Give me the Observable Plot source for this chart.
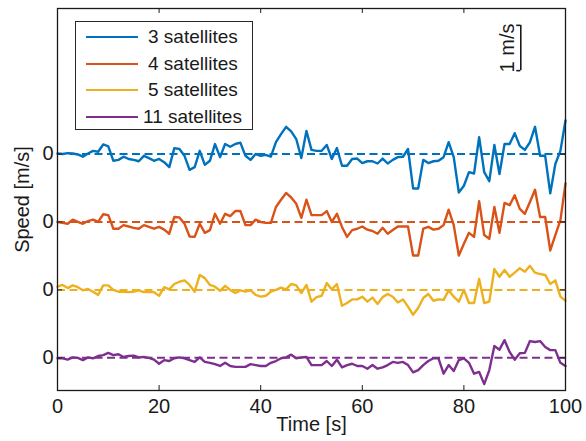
<!DOCTYPE html>
<html>
<head>
<meta charset="utf-8">
<script src="https://cdn.jsdelivr.net/npm/d3@7"></script>
<script src="https://cdn.jsdelivr.net/npm/@observablehq/plot@0.6"></script>
<style>
  html, body { margin: 0; padding: 0; background: #fff; }
  #wrap { position: relative; width: 586px; height: 441px; font-family: "Liberation Sans", Arial, sans-serif; }
  #legend { position: absolute; left: 75px; top: 21px; width: 178px; height: 109px; border: 1px solid #262626; background: #fff; box-sizing: border-box; }
  .sw { position: absolute; left: 10px; width: 52px; height: 0; border-top: 2.4px solid; }
  .lab { position: absolute; font-family: "Liberation Sans", Arial, sans-serif; font-size: 19px; color: #1a1a1a; white-space: nowrap; line-height: 20px; }
</style>
</head>
<body>
<div id="wrap"><div id="legend"></div></div>
<script>
const seriesNames = ["3 satellites", "4 satellites", "5 satellites", "11 satellites"];
const colors = ["#0072BD", "#D95319", "#EDB120", "#7E2F8E"];
const offsets = [0, -1.5, -3, -4.5];
const xTicks = [0, 20, 40, 60, 80, 100];

const sat3 = [0.01,0,0.02,0.01,-0.01,-0.06,0.01,0.07,0.05,0.21,0.17,-0.15,-0.13,-0.06,-0.11,-0.13,-0.16,-0.04,-0.09,-0.15,
  -0.11,-0.18,-0.29,0.13,0.11,-0.04,-0.35,-0.29,0.07,-0.24,-0.15,0.22,-0.07,0.22,0.16,0.22,0.25,-0.04,-0.13,0,
  -0.04,-0.02,-0.06,0.26,0.44,0.6,0.5,0.33,-0.09,0.51,0.09,0.07,0.07,0.2,-0.11,0.13,-0.26,-0.26,-0.11,-0.1,
  -0.2,-0.16,-0.16,-0.21,-0.1,-0.21,-0.13,-0.07,-0.06,0.11,-0.76,-0.76,-0.13,-0.2,-0.16,-0.15,-0.07,0.26,-0.07,-0.85,
  -0.7,-0.4,-0.43,0.37,-0.4,-0.6,0.2,-0.44,0.22,0.22,0.46,0.18,0.09,0.26,0.6,-0.04,-0.04,-0.87,-0.22,0.07,0.74];
const sat4 = [0,-0.02,-0.04,0.05,0,-0.04,0.02,0.05,0,0.17,0.15,-0.15,-0.15,-0.07,-0.1,-0.13,-0.15,-0.07,-0.11,-0.15,
  -0.11,-0.17,-0.26,0.11,0.1,-0.04,-0.32,-0.33,-0.04,-0.24,-0.18,0.18,-0.04,0.18,0.13,0.24,0.24,-0.07,-0.07,0.05,
  0,-0.02,-0.02,0.33,0.49,0.64,0.54,0.4,0.09,0.49,0.15,0.15,0.15,0.24,0,0.18,-0.11,-0.33,-0.18,-0.15,
  -0.1,-0.17,-0.2,-0.26,-0.13,-0.26,-0.18,-0.1,-0.1,-0.1,-0.74,-0.74,-0.15,-0.11,-0.17,-0.15,-0.07,0.27,-0.07,-0.74,
  -0.48,-0.24,-0.33,0.46,-0.29,-0.37,0.33,-0.24,0.42,0.37,0.59,0.29,0.18,0.44,0.71,0.11,0.11,-0.63,-0.29,0.04,0.85];
const sat5 = [0.07,0.11,0.04,0.1,0.06,-0.01,0.02,-0.04,-0.11,0.1,0.1,0,-0.04,-0.04,-0.05,-0.04,-0.01,-0.05,-0.04,-0.05,
  -0.13,0.06,0.01,0.13,0.18,0.21,0.11,-0.04,0.33,0.26,0.11,0.07,-0.02,0.09,0,-0.07,-0.01,-0.04,-0.01,-0.11,
  -0.15,-0.13,-0.04,0,0.05,0.01,0.13,0.1,-0.07,0.11,-0.26,-0.16,-0.13,0.15,0.01,0.13,-0.35,-0.29,-0.21,-0.21,
  -0.15,-0.26,-0.17,-0.31,-0.16,-0.09,-0.15,-0.28,-0.21,-0.37,-0.55,-0.4,-0.18,-0.09,-0.24,-0.21,-0.22,-0.01,-0.15,-0.26,
  0,-0.29,-0.29,0.24,-0.29,-0.26,0.46,0.29,0.44,0.29,0.38,0.48,0.4,0.53,0.38,0.35,0.33,0.13,0.21,-0.15,-0.24];
const sat11 = [-0.01,-0.01,-0.04,0.01,0,-0.05,0.01,-0.01,0.04,0.06,0.11,0.06,0.08,0.02,0.04,0.05,0.01,0.02,0,-0.04,
  -0.13,-0.05,-0.07,-0.01,0.01,-0.01,-0.05,-0.09,0.01,-0.09,-0.11,-0.14,-0.18,-0.11,-0.18,-0.2,-0.2,-0.2,-0.14,-0.16,
  -0.18,-0.18,-0.11,-0.07,-0.01,0.01,0.07,-0.01,0.01,0.02,-0.16,-0.16,-0.16,-0.07,-0.18,-0.04,-0.21,-0.16,-0.13,-0.18,
  -0.18,-0.24,-0.16,-0.24,-0.21,-0.16,-0.09,-0.11,-0.09,-0.16,-0.32,-0.27,-0.16,-0.07,-0.01,-0.01,-0.35,-0.16,-0.29,-0.05,
  -0.01,-0.11,-0.35,-0.31,-0.58,-0.27,0.26,0.18,0.39,0.13,-0.04,0.1,0.11,0.37,0.35,0.37,0.24,0.17,0.17,-0.11,-0.18];
const time = sat3.map((_, i) => i);

const allSeries = [sat3, sat4, sat5, sat11];
const rows = [];
allSeries.forEach((arr, k) => arr.forEach((v, i) => rows.push({t: time[i], v: v + offsets[k], series: seriesNames[k]})));
const baselines = offsets.map((o, k) => ({y: o, series: seriesNames[k]}));

const yMin = -5.221, yMax = 3.212;
const tickLenY = 0.11;  // ~5px in m/s
const tickLenX = 1;     // ~5px in s
const barX = 91.2, barTop = 2.84, barBot = barTop - 1;
const FS = 20;

const chart = Plot.plot({
  width: 586, height: 441,
  marginLeft: 57, marginRight: 21, marginTop: 8, marginBottom: 51,
  x: {domain: [0, 100]},
  y: {domain: [yMin, yMax]},
  color: {domain: seriesNames, range: colors},
  style: {fontFamily: "'Liberation Sans', Arial, sans-serif", fontSize: FS + "px", color: "#1a1a1a", background: "#fff", overflow: "visible"},
  marks: [
    Plot.ruleY(baselines, {y: "y", stroke: "series", strokeWidth: 2, strokeDasharray: "8,4.5"}),
    Plot.line(rows, {x: "t", y: "v", z: "series", stroke: "series", strokeWidth: 2.4, strokeLinejoin: "round"}),
    Plot.ruleX(xTicks.slice(1, -1), {x: d => d, y1: yMin, y2: yMin + tickLenY, stroke: "#1a1a1a"}),
    Plot.ruleX(xTicks.slice(1, -1), {x: d => d, y1: yMax, y2: yMax - tickLenY, stroke: "#1a1a1a"}),
    Plot.ruleY(offsets, {y: d => d, x1: 0, x2: tickLenX, stroke: "#1a1a1a"}),
    Plot.ruleY(offsets, {y: d => d, x1: 100 - tickLenX, x2: 100, stroke: "#1a1a1a"}),
    Plot.frame({stroke: "#1a1a1a", strokeWidth: 1.3}),
    Plot.axisX({ticks: xTicks, tickSize: 0, tickPadding: 8, tickFormat: d => String(d), label: null, fontSize: FS}),
    Plot.axisY({ticks: offsets, tickSize: 0, tickPadding: 4, tickFormat: () => "0", label: null, fontSize: FS}),
    Plot.text(["Time [s]"], {frameAnchor: "bottom", textAnchor: "middle", dy: 40, text: d => d, fontSize: FS}),
    Plot.text(["Speed [m/s]"], {frameAnchor: "left", textAnchor: "middle", dx: -35, rotate: -90, text: d => d, fontSize: FS}),
    Plot.ruleX([barX], {x: d => d, y1: barTop, y2: barBot, stroke: "#1a1a1a", strokeWidth: 1.6}),
    Plot.ruleY([barTop, barBot], {y: d => d, x1: barX - 0.8, x2: barX, stroke: "#1a1a1a", strokeWidth: 1.6}),
    Plot.text(["1 m/s"], {x: barX - 2.6, y: (barTop + barBot) / 2, rotate: -90, text: d => d, fontSize: FS})
  ]
});
const wrap = document.getElementById("wrap");
wrap.insertBefore(chart, wrap.firstChild);

const legend = document.getElementById("legend");
const rowCenters = [15, 41.7, 68.3, 95];
seriesNames.forEach((name, i) => {
  const sw = document.createElement("div");
  sw.className = "sw";
  sw.style.borderTopColor = colors[i];
  sw.style.top = (rowCenters[i] - 1.2) + "px";
  legend.appendChild(sw);
  const lab = document.createElement("div");
  lab.className = "lab";
  lab.textContent = name;
  lab.style.top = (rowCenters[i] - 10) + "px";
  lab.style.left = (name.length > 12 ? 67 : 72) + "px";
  legend.appendChild(lab);
});
</script>
</body>
</html>
